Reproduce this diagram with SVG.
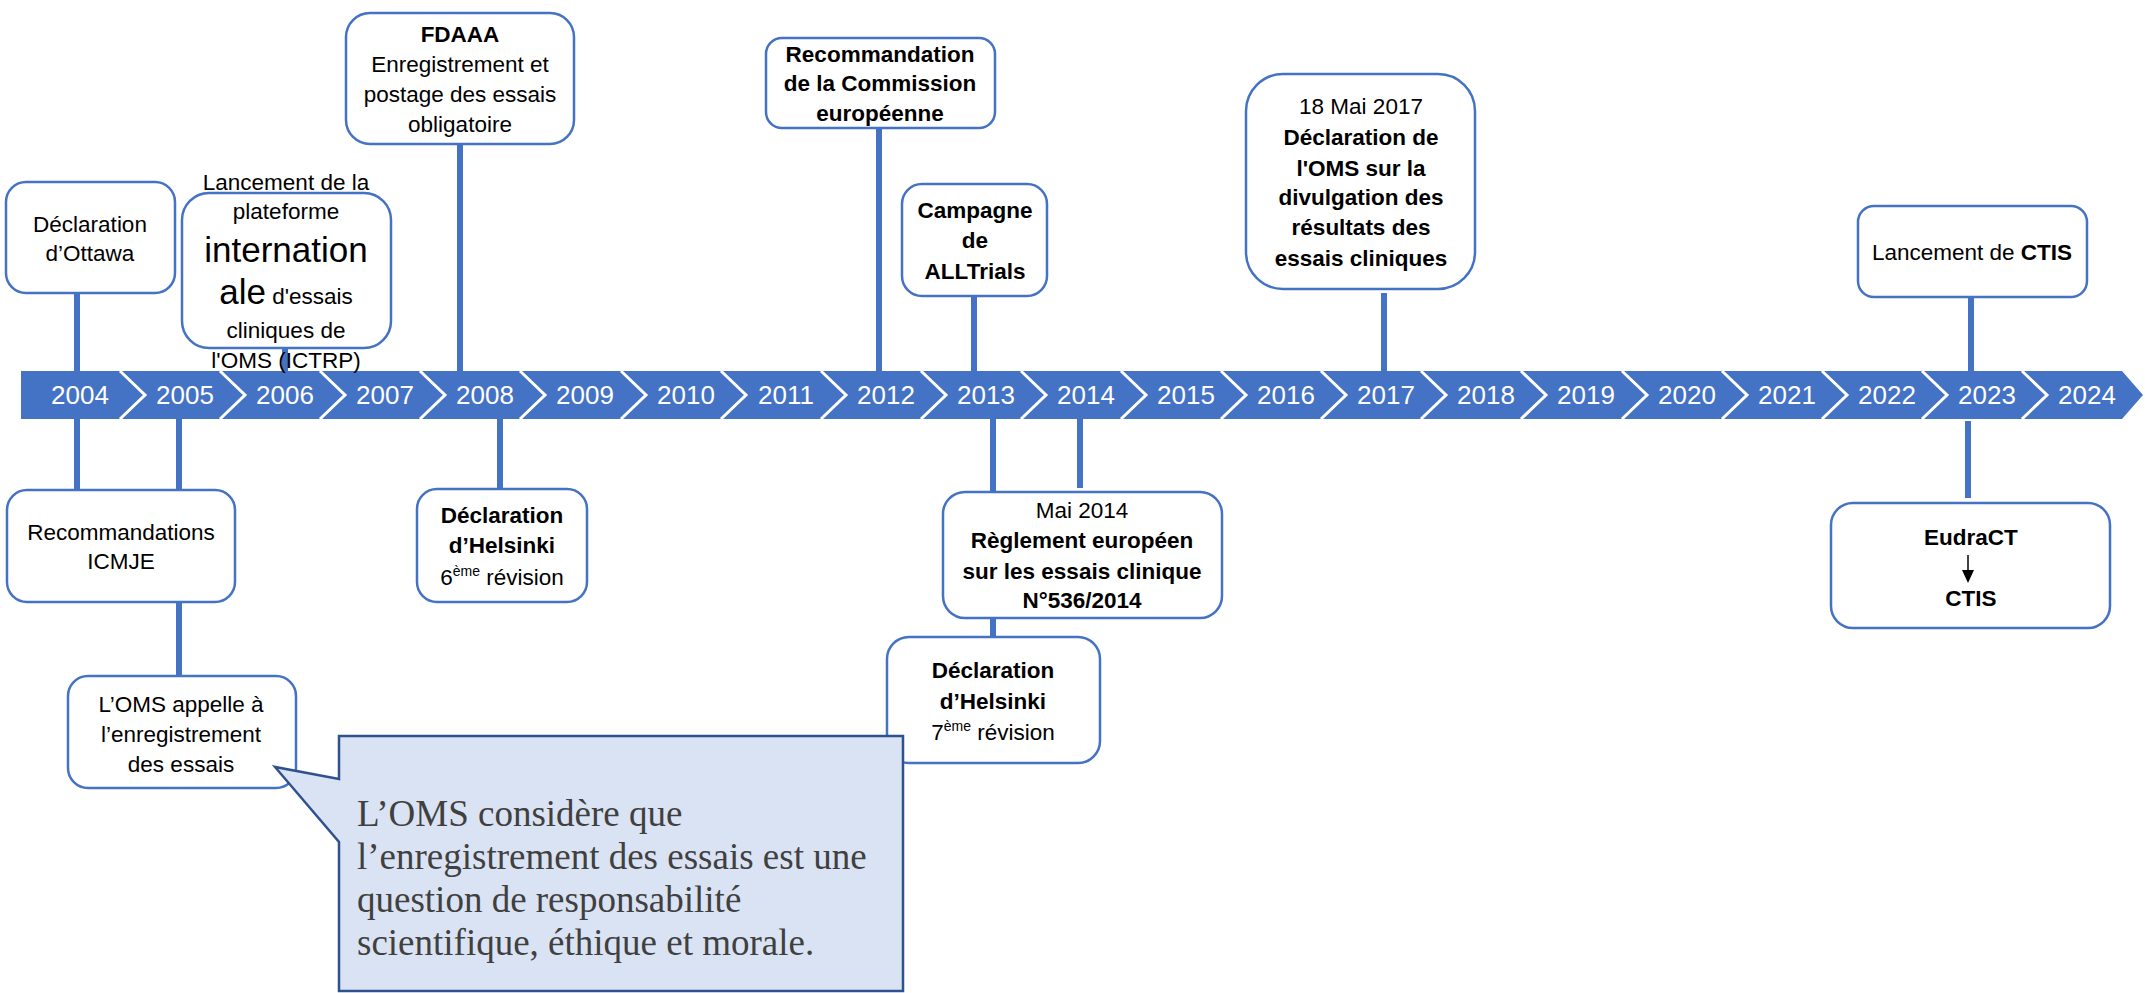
<svg xmlns="http://www.w3.org/2000/svg" width="2145" height="993" viewBox="0 0 2145 993">
<style>
.box{fill:#fff;stroke:#4472C4;stroke-width:2.5}
.t{font-family:"Liberation Sans",Arial,sans-serif;font-size:22.5px;fill:#000;text-anchor:middle}
.b{font-weight:bold}
.yr{font-family:"Liberation Sans",Arial,sans-serif;font-size:26px;fill:#fff;text-anchor:middle}
.sep{fill:none;stroke:#fff;stroke-width:3}
.c{stroke:#4472C4;stroke-width:6;fill:none}
.call{fill:#DAE3F3;stroke:#2F528F;stroke-width:2.5}
.ct{font-family:"Liberation Serif","Times New Roman",serif;font-size:37px;fill:#404040}
</style>
<rect width="2145" height="993" fill="#fff"/>
<g id="connectors">
<line class="c" x1="77" y1="293" x2="77" y2="372"/>
<line class="c" x1="285" y1="348" x2="285" y2="372"/>
<line class="c" x1="460" y1="144" x2="460" y2="372"/>
<line class="c" x1="879" y1="128" x2="879" y2="372"/>
<line class="c" x1="974" y1="296" x2="974" y2="372"/>
<line class="c" x1="1384" y1="293" x2="1384" y2="372"/>
<line class="c" x1="1971" y1="297" x2="1971" y2="372"/>
<line class="c" x1="77" y1="418" x2="77" y2="490"/>
<line class="c" x1="179" y1="418" x2="179" y2="490"/>
<line class="c" x1="179" y1="602" x2="179" y2="676"/>
<line class="c" x1="500" y1="418" x2="500" y2="489"/>
<line class="c" x1="993" y1="418" x2="993" y2="492"/>
<line class="c" x1="993" y1="618" x2="993" y2="637"/>
<line class="c" x1="1080" y1="418" x2="1080" y2="488"/>
<line class="c" x1="1968" y1="421" x2="1968" y2="498"/>
</g>
<g id="timeline">
<polygon points="21,371 2122,371 2143,395 2122,419 21,419" fill="#4472C4"/>
<polyline class="sep" points="120,371 145,395 120,419"/>
<polyline class="sep" points="220,371 245,395 220,419"/>
<polyline class="sep" points="320,371 345,395 320,419"/>
<polyline class="sep" points="420,371 445,395 420,419"/>
<polyline class="sep" points="520,371 545,395 520,419"/>
<polyline class="sep" points="621,371 646,395 621,419"/>
<polyline class="sep" points="721,371 746,395 721,419"/>
<polyline class="sep" points="821,371 846,395 821,419"/>
<polyline class="sep" points="921,371 946,395 921,419"/>
<polyline class="sep" points="1021,371 1046,395 1021,419"/>
<polyline class="sep" points="1121,371 1146,395 1121,419"/>
<polyline class="sep" points="1221,371 1246,395 1221,419"/>
<polyline class="sep" points="1321,371 1346,395 1321,419"/>
<polyline class="sep" points="1421,371 1446,395 1421,419"/>
<polyline class="sep" points="1521,371 1546,395 1521,419"/>
<polyline class="sep" points="1622,371 1647,395 1622,419"/>
<polyline class="sep" points="1722,371 1747,395 1722,419"/>
<polyline class="sep" points="1822,371 1847,395 1822,419"/>
<polyline class="sep" points="1922,371 1947,395 1922,419"/>
<polyline class="sep" points="2022,371 2047,395 2022,419"/>
<text class="yr" x="80" y="404">2004</text>
<text class="yr" x="185" y="404">2005</text>
<text class="yr" x="285" y="404">2006</text>
<text class="yr" x="385" y="404">2007</text>
<text class="yr" x="485" y="404">2008</text>
<text class="yr" x="585" y="404">2009</text>
<text class="yr" x="686" y="404">2010</text>
<text class="yr" x="786" y="404">2011</text>
<text class="yr" x="886" y="404">2012</text>
<text class="yr" x="986" y="404">2013</text>
<text class="yr" x="1086" y="404">2014</text>
<text class="yr" x="1186" y="404">2015</text>
<text class="yr" x="1286" y="404">2016</text>
<text class="yr" x="1386" y="404">2017</text>
<text class="yr" x="1486" y="404">2018</text>
<text class="yr" x="1586" y="404">2019</text>
<text class="yr" x="1687" y="404">2020</text>
<text class="yr" x="1787" y="404">2021</text>
<text class="yr" x="1887" y="404">2022</text>
<text class="yr" x="1987" y="404">2023</text>
<text class="yr" x="2087" y="404">2024</text>
</g>
<g id="ottawa">
<rect class="box" x="6" y="182" width="169" height="111" rx="20"/>
<text class="t" x="90" y="232">Déclaration</text>
<text class="t" x="90" y="261">d’Ottawa</text>
</g>
<g id="ictrp">
<rect class="box" x="182" y="193" width="209" height="155" rx="27"/>
<text class="t" x="286" y="190">Lancement de la</text>
<text class="t" x="286" y="219">plateforme</text>
<text class="t" x="286" y="262" style="font-size:35px">internation</text>
<text class="t" x="286" y="304"><tspan style="font-size:35px">ale</tspan> d'essais</text>
<text class="t" x="286" y="338">cliniques de</text>
<text class="t" x="286" y="368">l'OMS (ICTRP)</text>
</g>
<g id="fdaaa">
<rect class="box" x="346" y="13" width="228" height="131" rx="24"/>
<text class="t b" x="460" y="42">FDAAA</text>
<text class="t" x="460" y="72">Enregistrement et</text>
<text class="t" x="460" y="102">postage des essais</text>
<text class="t" x="460" y="132">obligatoire</text>
</g>
<g id="commission">
<rect class="box" x="766" y="38" width="229" height="90" rx="16"/>
<text class="t b" x="880" y="62">Recommandation</text>
<text class="t b" x="880" y="91">de la Commission</text>
<text class="t b" x="880" y="121">européenne</text>
</g>
<g id="alltrials">
<rect class="box" x="902" y="184" width="145" height="112" rx="20"/>
<text class="t b" x="975" y="218">Campagne</text>
<text class="t b" x="975" y="248">de</text>
<text class="t b" x="975" y="279">ALLTrials</text>
</g>
<g id="oms2017">
<rect class="box" x="1246" y="74" width="229" height="215" rx="37"/>
<text class="t" x="1361" y="114">18 Mai 2017</text>
<text class="t b" x="1361" y="145">Déclaration de</text>
<text class="t b" x="1361" y="176">l'OMS sur la</text>
<text class="t b" x="1361" y="205">divulgation des</text>
<text class="t b" x="1361" y="235">résultats des</text>
<text class="t b" x="1361" y="266">essais cliniques</text>
</g>
<g id="ctis">
<rect class="box" x="1858" y="206" width="229" height="91" rx="16"/>
<text class="t" x="1972" y="260">Lancement de <tspan class="b">CTIS</tspan></text>
</g>
<g id="icmje">
<rect class="box" x="7" y="490" width="228" height="112" rx="20"/>
<text class="t" x="121" y="540">Recommandations</text>
<text class="t" x="121" y="569">ICMJE</text>
</g>
<g id="omsappel">
<rect class="box" x="68" y="676" width="228" height="112" rx="20"/>
<text class="t" x="181" y="712">L’OMS appelle à</text>
<text class="t" x="181" y="742">l’enregistrement</text>
<text class="t" x="181" y="772">des essais</text>
</g>
<g id="helsinki6">
<rect class="box" x="417" y="489" width="170" height="113" rx="20"/>
<text class="t b" x="502" y="523">Déclaration</text>
<text class="t b" x="502" y="553">d’Helsinki</text>
<text class="t" x="502" y="585">6<tspan dy="-9" style="font-size:14px">ème</tspan><tspan dy="9"> révision</tspan></text>
</g>
<g id="reglement">
<rect class="box" x="943" y="492" width="279" height="126" rx="22"/>
<text class="t" x="1082" y="518">Mai 2014</text>
<text class="t b" x="1082" y="548">Règlement européen</text>
<text class="t b" x="1082" y="579">sur les essais clinique</text>
<text class="t b" x="1082" y="608">N°536/2014</text>
</g>
<g id="helsinki7">
<rect class="box" x="887" y="637" width="213" height="126" rx="22"/>
<text class="t b" x="993" y="678">Déclaration</text>
<text class="t b" x="993" y="709">d’Helsinki</text>
<text class="t" x="993" y="740">7<tspan dy="-9" style="font-size:14px">ème</tspan><tspan dy="9"> révision</tspan></text>
</g>
<g id="eudract">
<rect class="box" x="1831" y="503" width="279" height="125" rx="22"/>
<text class="t b" x="1971" y="545">EudraCT</text>
<line x1="1968" y1="555" x2="1968" y2="572" stroke="#000" stroke-width="1.5"/>
<polygon points="1962,570 1974,570 1968,583" fill="#000"/>
<text class="t b" x="1971" y="606">CTIS</text>
</g>
<g id="callout">
<path class="call" d="M339,736 L903,736 L903,991 L339,991 L339,842 L275,767 L339,779 Z"/>
<text class="ct" x="357" y="826">L’OMS considère que</text>
<text class="ct" x="357" y="869">l’enregistrement des essais est une</text>
<text class="ct" x="357" y="912">question de responsabilité</text>
<text class="ct" x="357" y="955">scientifique, éthique et morale.</text>
</g>
</svg>
